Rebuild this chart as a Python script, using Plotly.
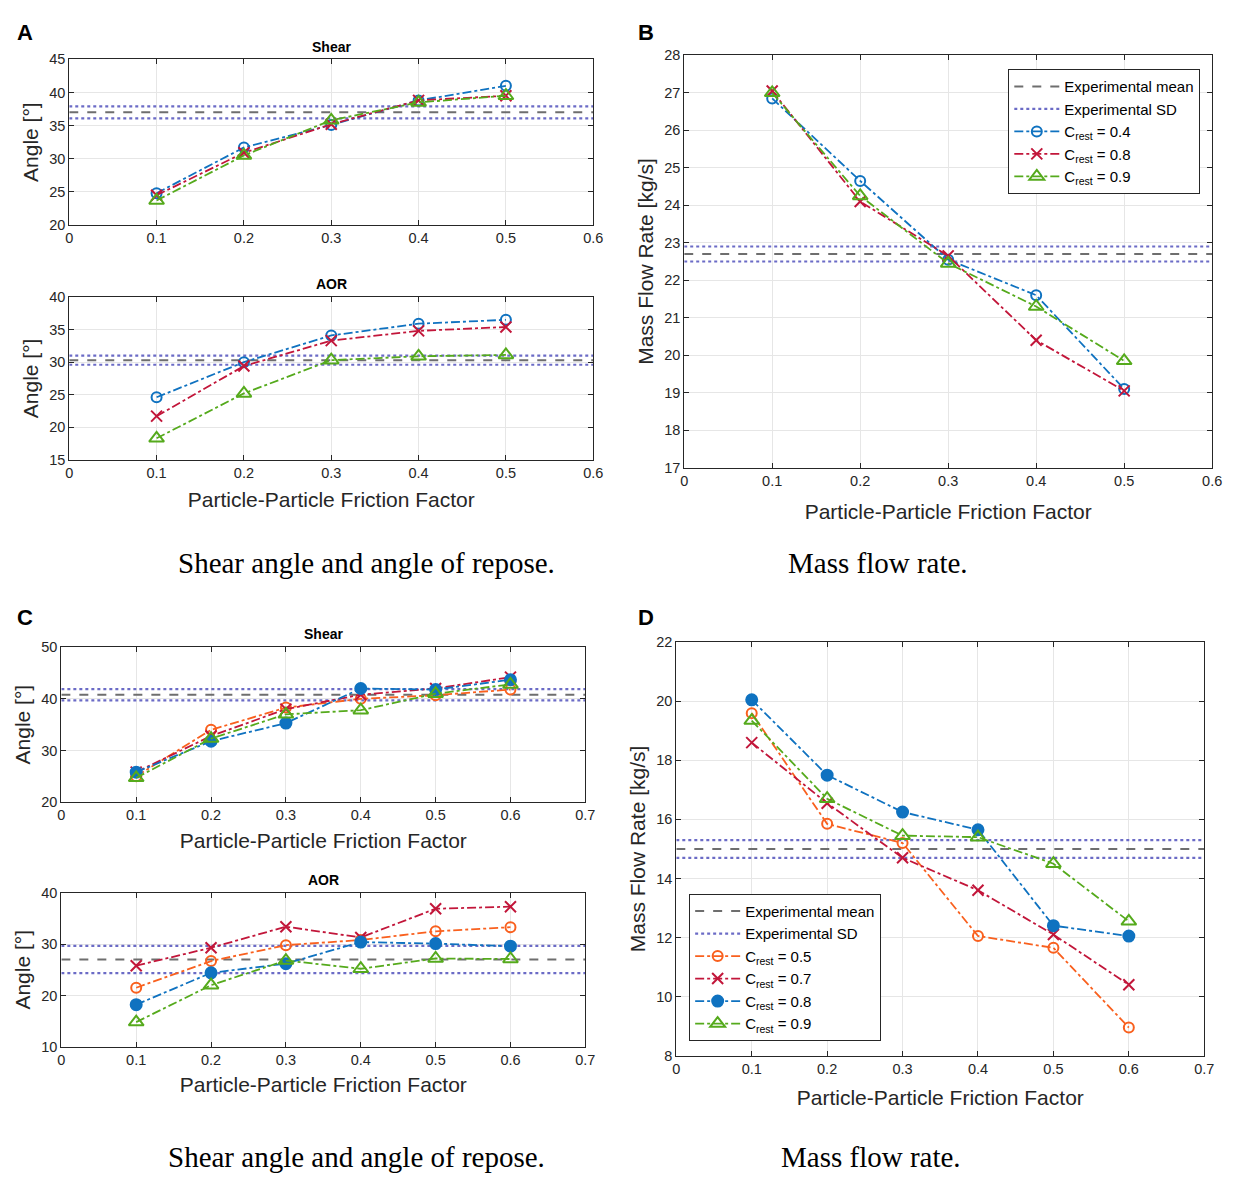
import plotly.graph_objects as go

W, H = 1236, 1180

# ---------------- data ----------------
friction_AB = [0.1, 0.2, 0.3, 0.4, 0.5]
friction_CD = [0.1, 0.2, 0.3, 0.4, 0.5, 0.6]

# Panel A - shear
A_shear_c04 = [24.8, 31.7, 35.1, 38.8, 41.0]
A_shear_c08 = [24.5, 30.9, 35.2, 38.8, 39.5]
A_shear_c09 = [23.7, 30.5, 35.8, 38.5, 39.5]
A_shear_mean, A_shear_sd = 37.0, 0.9
# Panel A - AOR
A_aor_c04 = [24.6, 30.0, 34.1, 35.9, 36.5]
A_aor_c08 = [21.7, 29.4, 33.3, 34.8, 35.4]
A_aor_c09 = [18.3, 25.2, 30.3, 30.9, 31.1]
A_aor_mean, A_aor_sd = 30.3, 0.7
# Panel B - mass flow rate
B_c04 = [26.85, 24.65, 22.55, 21.6, 19.1]
B_c08 = [27.05, 24.1, 22.65, 20.4, 19.05]
B_c09 = [27.0, 24.25, 22.45, 21.3, 19.85]
B_mean, B_sd = 22.7, 0.2
# Panel C - shear
C_shear_c05 = [25.0, 34.0, 38.3, 40.0, 40.7, 41.8]
C_shear_c07 = [25.8, 32.8, 38.0, 40.8, 42.0, 44.2]
C_shear_c08 = [25.8, 31.8, 35.3, 42.0, 41.8, 43.7]
C_shear_c09 = [24.7, 32.3, 37.0, 37.8, 41.0, 42.8]
C_shear_mean, C_shear_sd = 40.8, 1.1
# Panel C - AOR
C_aor_c05 = [21.5, 26.7, 29.8, 30.8, 32.5, 33.3]
C_aor_c07 = [25.8, 29.3, 33.4, 31.3, 36.9, 37.3]
C_aor_c08 = [18.2, 24.4, 26.2, 30.4, 30.1, 29.6]
C_aor_c09 = [14.8, 22.0, 26.8, 25.2, 27.2, 27.1]
C_aor_mean, C_aor_sd = 27.0, 2.65
# Panel D - mass flow rate
D_c05 = [19.6, 15.85, 15.2, 12.05, 11.65, 8.95]
D_c07 = [18.6, 16.55, 14.7, 13.6, 12.1, 10.4]
D_c08 = [20.05, 17.5, 16.25, 15.65, 12.4, 12.05]
D_c09 = [19.35, 16.7, 15.45, 15.4, 14.5, 12.55]
D_mean, D_sd = 15.0, 0.3

# ---------------- styles ----------------
BLUE = "#0F72C0"
RED = "#C2163A"
GREEN = "#55AA1C"
ORANGE = "#F9601E"
MEAN_C = "#6E6E6E"
SD_C = "#6B6BC6"
AX_C = "#262626"
SANS = "Liberation Sans, Arial, sans-serif"
SERIF = "Liberation Serif, Times New Roman, serif"

# key -> (symbol, colour, size)
SYM = {
    "0.4": ("circle-open", BLUE, 10),
    "0.5": ("circle-open", ORANGE, 10),
    "0.7": ("x-thin-open", RED, 11),
    "0.8": ("circle", BLUE, 11),
    "0.9": ("triangle-up-open", GREEN, 13),
}
RED_X = ("x-thin-open", RED, 11)

fig = go.Figure()


def px_x(p):
    return p / W


def px_y(p):
    return 1 - p / H


def axn(ax):
    s = "" if ax == 1 else str(ax)
    return "x" + s, "y" + s


def add_ref(ax, xr, mean, sd, legend=None):
    xa, ya = axn(ax)
    show = legend is not None
    fig.add_trace(go.Scatter(
        x=[xr[0], xr[1]], y=[mean, mean], mode="lines", xaxis=xa, yaxis=ya,
        line=dict(color=MEAN_C, width=2, dash="dash"),
        name="Experimental mean", showlegend=show, legend=legend or "legend",
        hoverinfo="skip"))
    fig.add_trace(go.Scatter(
        x=[xr[0], xr[1], None, xr[0], xr[1]],
        y=[mean - sd, mean - sd, None, mean + sd, mean + sd],
        mode="lines", xaxis=xa, yaxis=ya,
        line=dict(color=SD_C, width=2.2, dash="dot"),
        name="Experimental SD", showlegend=show, legend=legend or "legend",
        hoverinfo="skip"))


def add_series(ax, xs, ys, label, style, legend=None):
    xa, ya = axn(ax)
    sym, col, size = style
    fig.add_trace(go.Scatter(
        x=xs, y=ys, mode="lines+markers", xaxis=xa, yaxis=ya,
        line=dict(color=col, width=1.8, dash="dashdot"),
        marker=dict(symbol=sym, size=size, color=col,
                    line=dict(color=col, width=2)),
        name="C<sub>rest</sub> = " + label,
        showlegend=legend is not None, legend=legend or "legend"))


XR_AB = [0, 0.6]
XR_CD = [0, 0.7]

# Panel A
add_ref(1, XR_AB, A_shear_mean, A_shear_sd)
add_series(1, friction_AB, A_shear_c04, "0.4", SYM["0.4"])
add_series(1, friction_AB, A_shear_c08, "0.8", RED_X)
add_series(1, friction_AB, A_shear_c09, "0.9", SYM["0.9"])
add_ref(2, XR_AB, A_aor_mean, A_aor_sd)
add_series(2, friction_AB, A_aor_c04, "0.4", SYM["0.4"])
add_series(2, friction_AB, A_aor_c08, "0.8", RED_X)
add_series(2, friction_AB, A_aor_c09, "0.9", SYM["0.9"])

# Panel B
add_ref(3, XR_AB, B_mean, B_sd, legend="legend")
add_series(3, friction_AB, B_c04, "0.4", SYM["0.4"], legend="legend")
add_series(3, friction_AB, B_c08, "0.8", RED_X, legend="legend")
add_series(3, friction_AB, B_c09, "0.9", SYM["0.9"], legend="legend")

# Panel C
add_ref(4, XR_CD, C_shear_mean, C_shear_sd)
add_series(4, friction_CD, C_shear_c05, "0.5", SYM["0.5"])
add_series(4, friction_CD, C_shear_c07, "0.7", SYM["0.7"])
add_series(4, friction_CD, C_shear_c08, "0.8", SYM["0.8"])
add_series(4, friction_CD, C_shear_c09, "0.9", SYM["0.9"])
add_ref(5, XR_CD, C_aor_mean, C_aor_sd)
add_series(5, friction_CD, C_aor_c05, "0.5", SYM["0.5"])
add_series(5, friction_CD, C_aor_c07, "0.7", SYM["0.7"])
add_series(5, friction_CD, C_aor_c08, "0.8", SYM["0.8"])
add_series(5, friction_CD, C_aor_c09, "0.9", SYM["0.9"])

# Panel D
add_ref(6, XR_CD, D_mean, D_sd, legend="legend2")
add_series(6, friction_CD, D_c05, "0.5", SYM["0.5"], legend="legend2")
add_series(6, friction_CD, D_c07, "0.7", SYM["0.7"], legend="legend2")
add_series(6, friction_CD, D_c08, "0.8", SYM["0.8"], legend="legend2")
add_series(6, friction_CD, D_c09, "0.9", SYM["0.9"], legend="legend2")

# ---------------- axes ----------------
# plot-area pixel boxes: left, right, top, bottom
boxes = {
    1: (66, 596, 52, 220),
    2: (66, 596, 293, 458),
    3: (688, 1222, 48, 466),
    4: (58, 588, 648, 805),
    5: (58, 588, 897, 1053),
    6: (680, 1214, 643, 1062),
}
yranges = {1: (20, 45, 5), 2: (15, 40, 5), 3: (17, 28, 1),
           4: (20, 50, 10), 5: (10, 40, 10), 6: (8, 22, 2)}
xranges = {1: XR_AB, 2: XR_AB, 3: XR_AB, 4: XR_CD, 5: XR_CD, 6: XR_CD}
xtitle_standoff = {2: 12, 3: 16, 4: 10, 5: 10, 6: 14}
ytitles = {1: "Angle [°]", 2: "Angle [°]", 3: "Mass Flow Rate [kg/s]",
           4: "Angle [°]", 5: "Angle [°]", 6: "Mass Flow Rate [kg/s]"}

common = dict(showline=True, linecolor=AX_C, linewidth=1, mirror="ticks",
              ticks="inside", ticklen=5, tickwidth=1, tickcolor=AX_C,
              showgrid=True, gridcolor="#E6E6E6", gridwidth=1,
              zeroline=False, tickfont=dict(family=SANS, size=14.5, color=AX_C))

for i, (l, r, t, b) in boxes.items():
    sfx = "" if i == 1 else str(i)
    xa = dict(common, domain=[px_x(l), px_x(r)], anchor="y" + sfx,
              range=list(xranges[i]), dtick=0.1, tick0=0)
    if i in xtitle_standoff:
        xa["title"] = dict(text="Particle-Particle Friction Factor",
                           font=dict(family=SANS, size=21, color=AX_C),
                           standoff=xtitle_standoff[i])
    y0, y1, dt = yranges[i]
    ya = dict(common, domain=[px_y(b), px_y(t)], anchor="x" + sfx,
              range=[y0, y1], dtick=dt, tick0=y0,
              title=dict(text=ytitles[i],
                         font=dict(family=SANS, size=21, color=AX_C),
                         standoff=4))
    fig.update_layout({"xaxis" + sfx: xa, "yaxis" + sfx: ya})

# ---------------- annotations ----------------
ann = []


def note(txt, x, y, font):
    ann.append(dict(text=txt, x=px_x(x), y=px_y(y), xref="paper", yref="paper",
                    xanchor="center", yanchor="middle", showarrow=False,
                    font=font))


for txt, x, y in [("A", 21, 25), ("B", 649, 25), ("C", 21, 618), ("D", 649, 618)]:
    note("<b>" + txt + "</b>", x, y, dict(family=SANS, size=22, color="black"))
for txt, x, y in [("Shear", 331, 40), ("AOR", 331, 280),
                  ("Shear", 323, 635), ("AOR", 323, 884)]:
    note("<b>" + txt + "</b>", x, y, dict(family=SANS, size=14, color="black"))
for txt, x, y in [("Shear angle and angle of repose.", 367, 563),
                  ("Mass flow rate.", 884, 563),
                  ("Shear angle and angle of repose.", 357, 1165),
                  ("Mass flow rate.", 877, 1165)]:
    note(txt, x, y, dict(family=SERIF, size=29, color="black"))

legend_style = dict(bgcolor="white", bordercolor=AX_C, borderwidth=1,
                    font=dict(family=SANS, size=15, color="black"),
                    itemwidth=45, tracegroupgap=0)

fig.update_layout(
    width=W, height=H, margin=dict(l=0, r=0, t=0, b=0),
    paper_bgcolor="white", plot_bgcolor="white",
    annotations=ann,
    legend=dict(legend_style, x=px_x(1210), y=px_y(62),
                xanchor="right", yanchor="top"),
    legend2=dict(legend_style, x=px_x(693), y=px_y(898),
                 xanchor="left", yanchor="top"),
)

fig.write_html(
    "out.html",
    config={"displayModeBar": False},
    post_script="document.body.style.margin='0';"
                "document.documentElement.style.overflow='hidden';")
